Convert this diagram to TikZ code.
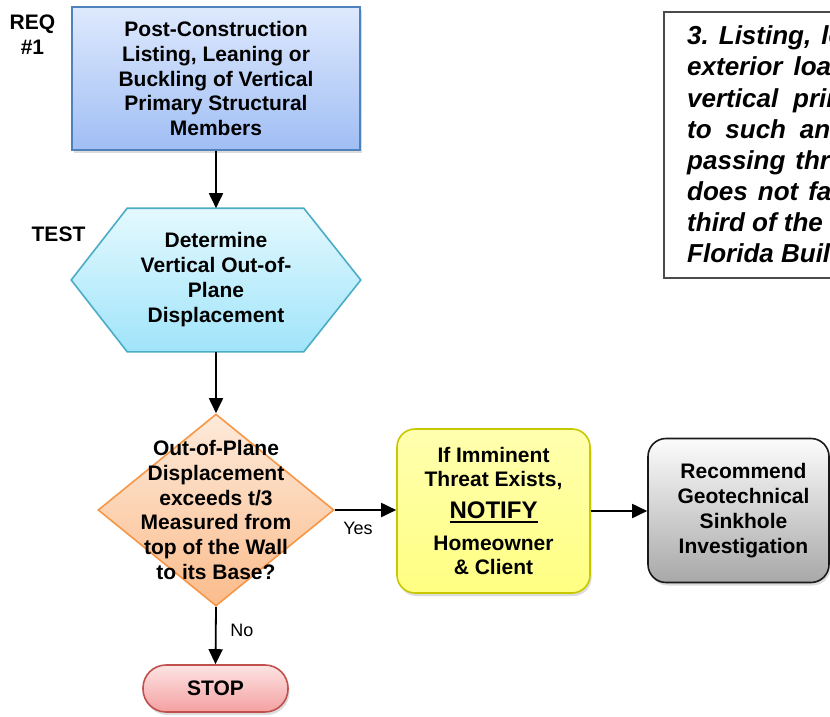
\documentclass[tikz,border=0pt]{standalone}
\usepackage{fontspec}
\setmainfont{Liberation Sans}
\usetikzlibrary{arrows.meta,shapes.geometric,shadows,backgrounds}
\definecolor{reqTop}{RGB}{222,233,253}
\definecolor{reqBot}{RGB}{160,190,244}
\definecolor{reqBorder}{RGB}{79,129,189}
\definecolor{hexTop}{RGB}{228,249,254}
\definecolor{hexBot}{RGB}{160,228,250}
\definecolor{hexBorder}{RGB}{75,172,198}
\definecolor{diaTop}{RGB}{253,234,218}
\definecolor{diaBot}{RGB}{251,188,140}
\definecolor{diaBorder}{RGB}{247,150,70}
\definecolor{yelTop}{RGB}{255,255,175}
\definecolor{yelBot}{RGB}{255,255,130}
\definecolor{yelBorder}{RGB}{200,200,0}
\definecolor{grayTop}{RGB}{252,252,252}
\definecolor{grayBot}{RGB}{168,168,168}
\definecolor{grayBorder}{RGB}{25,25,25}
\definecolor{stopTop}{RGB}{253,228,228}
\definecolor{stopBot}{RGB}{244,160,160}
\definecolor{stopBorder}{RGB}{192,80,77}
\definecolor{defBorder}{RGB}{75,75,75}
\newcommand\myul[1]{\vtop{\hbox{#1}\kern2.5pt\hrule height 2pt}}
\begin{document}
\begin{tikzpicture}[x=1pt,y=-1pt,
  mainfont/.style={font=\fontsize{21}{24.6}\selectfont\bfseries, align=center},
  box/.style={line width=1.6pt, inner sep=0pt, mainfont},
  shad/.style={drop shadow={opacity=0.28, shadow xshift=1.5pt, shadow yshift=-3pt}},
  conn/.style={line width=1.8pt, -{Triangle[length=15pt,width=14pt]}},
  lbl/.style={font=\fontsize{21}{25}\selectfont\bfseries, align=center, inner sep=0pt},
  small/.style={font=\fontsize{18}{20}\selectfont, inner sep=0pt},
  deftext/.style={anchor=base west, inner sep=0pt, font=\fontsize{26}{31}\selectfont\bfseries\itshape\frenchspacing}
]
\useasboundingbox (0,0) rectangle (830,717);
\clip (0,0) rectangle (830,717);

% definition box (cut by the picture edge)
\node[draw=defBorder, line width=1.8pt, anchor=north west, minimum width=600pt, minimum height=266pt, inner sep=0pt] (defbox) at (663,11) {};
\node[deftext] (d1) at (687,45) {3.\hspace{10pt}Listing,\hspace{10pt}leaning, or buckling of the};
\node[deftext] (d2) at (687,76) {exterior\hspace{11pt}load bearing walls or other};
\node[deftext] (d3) at (687,107) {vertical\hspace{15pt}primary structural members};
\node[deftext] (d4) at (687,138) {to\hspace{13.7pt}such\hspace{13.7pt}an extent that a plumb line};
\node[deftext] (d5) at (687,169) {passing\hspace{10pt}through the center of gravity};
\node[deftext] (d6) at (687,200) {does\hspace{10pt}not\hspace{10pt}fall inside the middle one-};
\node[deftext] (d7) at (687,231) {third of the base as defined within the};
\node[deftext] (d8) at (687,262) {Florida Building Code.};

% labels
\node[lbl] (reqlabel) at (32.5,34.5) {REQ\\\#1};
\node[lbl] (testlabel) at (58.5,234) {TEST};

% REQ box
\node[box, shad, draw=reqBorder, top color=reqTop, bottom color=reqBot,
  minimum width=288pt, minimum height=143pt] (req) at (216,78.5)
  {Post-Construction\\Listing, Leaning or\\Buckling of Vertical\\Primary Structural\\Members};

% hexagon
\node[box, minimum width=288pt, minimum height=142pt, font=\fontsize{21}{25}\selectfont\bfseries] (test) at (216,280)
  {Determine\\Vertical Out-of-\\Plane\\Displacement};
\begin{scope}[on background layer]
\path[draw=hexBorder, line width=1.6pt, top color=hexTop, bottom color=hexBot, line join=miter]
  (test.west) -- ([xshift=56pt]test.north west) -- ([xshift=-57pt]test.north east)
  -- (test.east) -- ([xshift=-57pt]test.south east) -- ([xshift=56pt]test.south west) -- cycle;
\end{scope}

% decision
\node[diamond, draw=diaBorder, line width=1.6pt, top color=diaTop, bottom color=diaBot,
  minimum width=236pt, minimum height=192pt, inner sep=0pt] (dec) at (216,510) {};
\node[mainfont, inner sep=0pt, font=\fontsize{21}{24.8}\selectfont\bfseries] (dectext) at (216,510)
  {Out-of-Plane\\Displacement\\exceeds t/3\\Measured from\\top of the Wall\\to its Base?};

% notify
\node[box, shad, draw=yelBorder, top color=yelTop, bottom color=yelBot, rounded corners=18pt,
  minimum width=193pt, minimum height=164pt] (notify) at (493.5,511)
  {If Imminent\\Threat Exists,\\[6.5pt]{\fontsize{24}{24}\selectfont\myul{NOTIFY}}\\[7.5pt]Homeowner\\\& Client};

% geotechnical
\node[box, shad, draw=grayBorder, top color=grayTop, bottom color=grayBot, rounded corners=18pt,
  minimum width=181pt, minimum height=144pt, font=\fontsize{21}{25}\selectfont\bfseries] (geo) at (738.5,510.5)
  {\hspace*{10pt}Recommend\\\hspace*{10pt}Geotechnical\\\hspace*{10pt}Sinkhole\\\hspace*{10pt}Investigation};

% stop
\node[box, shad, draw=stopBorder, top color=stopTop, bottom color=stopBot, rounded corners=23pt,
  minimum width=145pt, minimum height=47pt] (stop) at (215.5,688.5) {STOP};

% connectors
\draw[conn] (req.south) -- (test.north);
\draw[conn] (test.south) -- (dec.north);
\draw[conn] (dec.south) -- (stop.north);
\draw[conn] (dec.east) -- (dec.east -| notify.west);
\draw[conn] (notify.east) -- (notify.east -| geo.west);

\node[small] (yes) at (358,528) {Yes};
\node[small] (no) at (242,630) {No};
\end{tikzpicture}
\end{document}
